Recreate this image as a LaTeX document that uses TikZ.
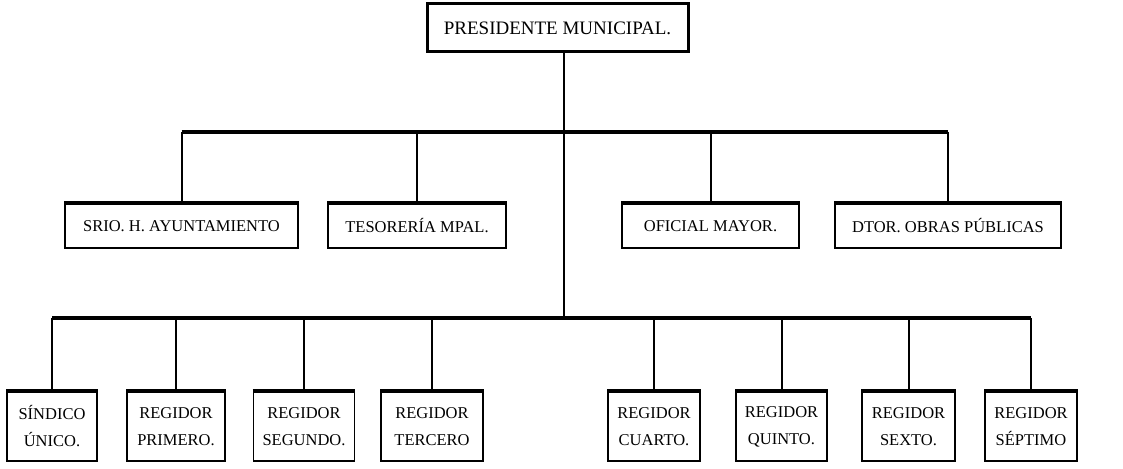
\documentclass[tikz,border=0pt]{standalone}
\usepackage{fontspec}
\setmainfont{Liberation Serif}
\usetikzlibrary{positioning}

\begin{document}
\begin{tikzpicture}[x=1pt, y=-1pt, font=\fontsize{16.5}{27}\selectfont,
      b/.style={rectangle, draw, line width=1.8pt, align=center, inner sep=2pt},
      jefe/.style={b, line width=3pt, minimum width=261pt, minimum height=48pt,
                   font=\fontsize{19}{22}\selectfont},
      dir/.style={b, minimum height=44pt},
      reg/.style={b, minimum height=69pt},
      bus/.style={line width=3.3pt},
      br/.style={line width=2pt}]
    \useasboundingbox (0,0) rectangle (1123,468);
    \node[jefe] (pres) at (557.5,28) {PRESIDENTE MUNICIPAL.};
    % direcciones
    \node[dir, minimum width=233pt] (srio) at (181.5,226) {SRIO. H. AYUNTAMIENTO};
    \node[dir, minimum width=178pt] (teso) at (417,226)   {TESORERÍA MPAL.};
    \node[dir, minimum width=177pt] (ofic) at (710.5,226) {OFICIAL MAYOR.};
    \node[dir, minimum width=226pt] (dtor) at (948,226)   {DTOR. OBRAS PÚBLICAS};
    % cabildo
    \node[reg, minimum width=90pt]  (sind) at (52,426.5)    {SÍNDICO\\ÚNICO.};
    \node[reg, minimum width=98pt]  (reg1) at (176,426.5)   {REGIDOR\\PRIMERO.};
    \node[reg, minimum width=101pt] (reg2) at (304,426.5)   {REGIDOR\\SEGUNDO.};
    \node[reg, minimum width=102pt] (reg3) at (432,426.5)   {REGIDOR\\TERCERO};
    \node[reg, minimum width=92pt]  (reg4) at (654,426.5)   {REGIDOR\\CUARTO.};
    \node[reg, minimum width=91pt]  (reg5) at (781.5,426.5) {REGIDOR\\QUINTO.};
    \node[reg, minimum width=93pt]  (reg6) at (908.5,426.5) {REGIDOR\\SEXTO.};
    \node[reg, minimum width=92pt]  (reg7) at (1031,426.5)  {REGIDOR\\SÉPTIMO};
    \coordinate (up) at (564,132);
    \coordinate (lo) at (564,318);
    \draw[br] (pres.south -| up) -- (lo);
    \draw[bus] (srio.north |- up) -- (dtor.north |- up);
    \draw[bus] (sind.north |- lo) -- (reg7.north |- lo);
    \foreach \n in {srio,teso,ofic,dtor} {
      \draw[br] (\n.north |- up) -- (\n.north);
      \draw[bus] (\n.north west) -- (\n.north east);
    }
    \foreach \n in {sind,reg1,reg2,reg3,reg4,reg5,reg6,reg7} {
      \draw[br] (\n.north |- lo) -- (\n.north);
      \draw[bus] (\n.north west) -- (\n.north east);
    }
  \end{tikzpicture}
\end{document}
